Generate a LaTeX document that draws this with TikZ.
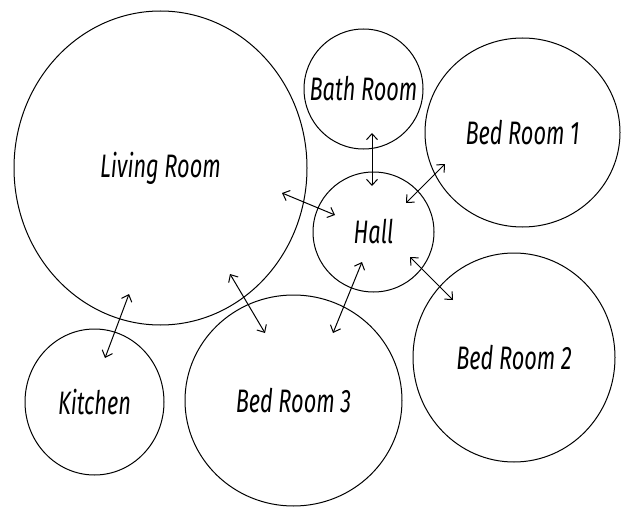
\documentclass[tikz,border=0pt]{standalone}
\usepackage{fontspec}
\newfontfamily\hand[FakeStretch=0.67]{Fira Sans}
\usetikzlibrary{shapes.geometric,arrows.meta}
\newcommand\roomlabel[1]{\makebox[0pt]{#1}}
\begin{document}
\begin{tikzpicture}[x=1pt,y=-1pt,
  room/.style={draw, ellipse, line width=1pt, inner sep=0pt,
    font=\hand\itshape\fontsize{32.5}{38}\selectfont},
  link/.style={line width=1pt,
    {Straight Barb[length=6pt,width=11pt]}-{Straight Barb[length=6pt,width=11pt]}}]
\useasboundingbox (0,0) rectangle (626,508);
\node[room, minimum width=293pt, minimum height=314pt] (living) at (160.5,168) {\roomlabel{Living Room}};
\node[room, minimum width=119pt, minimum height=120pt] (bath) at (363.5,89) {\roomlabel{Bath Room}};
\node[room, minimum width=195pt, minimum height=189pt] (bed1) at (522.5,132.5) {\roomlabel{Bed Room 1}};
\node[room, minimum width=121pt, minimum height=120pt] (hall) at (373.5,232) {\roomlabel{Hall}};
\node[room, minimum width=202pt, minimum height=209pt] (bed2) at (514,357.5) {\roomlabel{Bed Room 2}};
\node[room, minimum width=139pt, minimum height=146pt] (kitchen) at (94.5,402) {\roomlabel{Kitchen}};
\node[room, minimum width=217pt, minimum height=211pt] (bed3) at (293.5,400.5) {\roomlabel{Bed Room 3}};
\coordinate (lh1) at (282,193);
\coordinate (lh2) at (335,215);
\coordinate (bh1) at (372,133);
\coordinate (bh2) at (372,186);
\coordinate (b1h1) at (445,164);
\coordinate (b1h2) at (406,203);
\coordinate (hb2a) at (410,257);
\coordinate (hb2b) at (453,300);
\coordinate (hb3a) at (362,262);
\coordinate (hb3b) at (333,333);
\coordinate (lb3a) at (230,274);
\coordinate (lb3b) at (265,333);
\coordinate (lka) at (129,294);
\coordinate (lkb) at (105,358);
\draw[link] (lh1) -- (lh2);
\draw[link] (bh1) -- (bh2);
\draw[link] (b1h1) -- (b1h2);
\draw[link] (hb2a) -- (hb2b);
\draw[link] (hb3a) -- (hb3b);
\draw[link] (lb3a) -- (lb3b);
\draw[link] (lka) -- (lkb);
\end{tikzpicture}
\end{document}
